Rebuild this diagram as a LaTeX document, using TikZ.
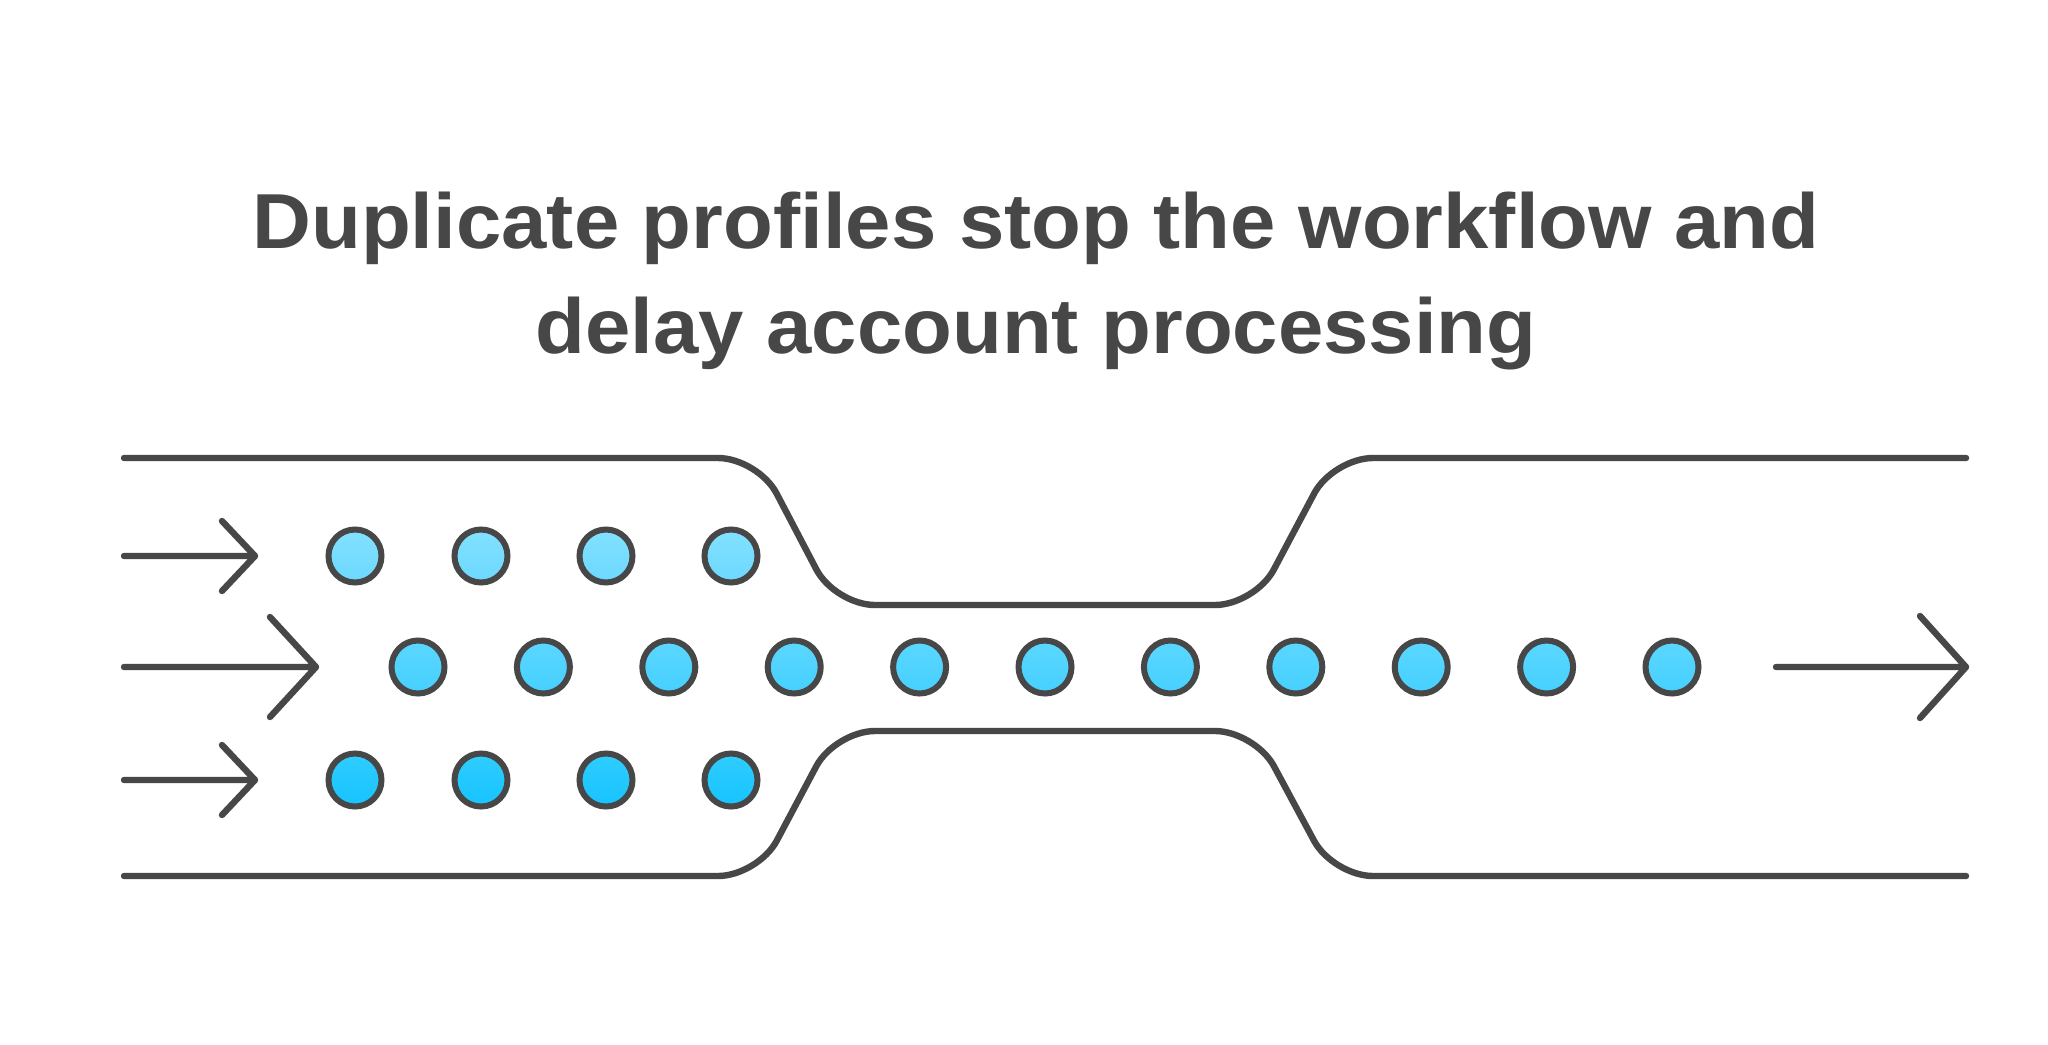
\documentclass[tikz,border=0pt]{standalone}
\usepackage{fontspec}
\setmainfont{Liberation Sans}
\usetikzlibrary{calc}
\definecolor{ink}{HTML}{474747}
\definecolor{rowAt}{HTML}{82E1FF}
\definecolor{rowAb}{HTML}{6CD8FF}
\definecolor{rowBt}{HTML}{5AD7FF}
\definecolor{rowBb}{HTML}{46D0FF}
\definecolor{rowCt}{HTML}{30CDFF}
\definecolor{rowCb}{HTML}{16C3FF}
\tikzset{
  wall/.style={draw=ink, line width=3.2pt, line cap=round, line join=round, rounded corners=20pt},
  flow/.style={draw=ink, line width=3.2pt, line cap=round, line join=round},
  dot/.style={circle, draw=ink, line width=3pt, minimum size=26.5pt, inner sep=0pt},
  dotA/.style={dot, top color=rowAt, bottom color=rowAb},
  dotB/.style={dot, top color=rowBt, bottom color=rowBb},
  dotC/.style={dot, top color=rowCt, bottom color=rowCb},
  title/.style={text=ink, font=\fontsize{39}{52.5}\selectfont\bfseries, align=center}
}
\begin{document}
\begin{tikzpicture}[x=0.5pt,y=-0.5pt]
\path[use as bounding box, fill=white] (0,0) rectangle (2048,1044);

% title
\node[title, anchor=north] (title) at (1036,185) {\scalebox{1.045}[1]{Duplicate profiles stop the workflow and}\\\scalebox{1.045}[1]{delay account processing}};

% funnel walls
\draw[wall] (124,458) -- (758,458) -- (835,605) -- (1255,605) -- (1333,458) -- (1966,458);
\draw[wall] (124,876) -- (758,876) -- (835,731) -- (1255,731) -- (1333,876) -- (1966,876);

% arrows
\coordinate (a1s) at (124,556); \coordinate (a1t) at (255,556);
\coordinate (a2s) at (124,667); \coordinate (a2t) at (316,667);
\coordinate (a3s) at (124,780); \coordinate (a3t) at (255,780);
\coordinate (a4s) at (1776,667); \coordinate (a4t) at (1966,667);
\draw[flow] (a1s) -- (a1t) ($(a1t)+(-33,-35)$) -- (a1t) -- ($(a1t)+(-33,35)$);
\draw[flow] (a2s) -- (a2t) ($(a2t)+(-46,-50)$) -- (a2t) -- ($(a2t)+(-46,50)$);
\draw[flow] (a3s) -- (a3t) ($(a3t)+(-33,-35)$) -- (a3t) -- ($(a3t)+(-33,35)$);
\draw[flow] (a4s) -- (a4t) ($(a4t)+(-46,-51)$) -- (a4t) -- ($(a4t)+(-46,51)$);

% dots
\foreach \i/\x in {1/355,2/481,3/606,4/731}{
  \node[dotA] (t\i) at (\x,556) {};
  \node[dotC] (b\i) at (\x,780) {};
}
\foreach \i in {0,...,10}{
  \node[dotB] (m\i) at ({418+125.4*\i},667) {};
}
\end{tikzpicture}
\end{document}
